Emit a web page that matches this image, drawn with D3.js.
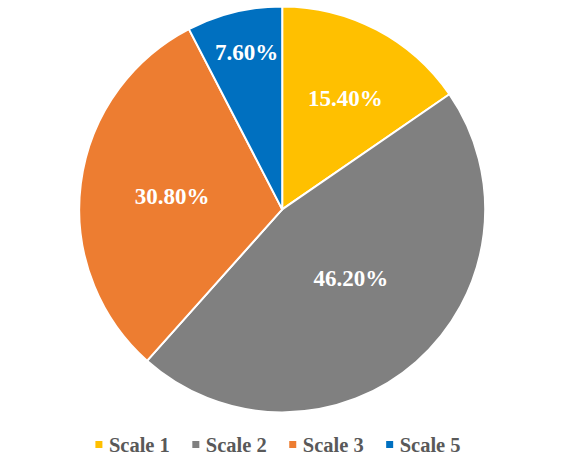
<!DOCTYPE html>
<html>
<head>
<meta charset="utf-8">
<script src="https://cdn.jsdelivr.net/npm/d3@7"></script>
<style>
  html, body { margin: 0; padding: 0; background: #fff; }
  svg { display: block; }
  svg text { font-family: "Liberation Serif", "Times New Roman", Tinos, serif; font-weight: bold; }
</style>
</head>
<body>
<svg id="chart" width="561" height="462"></svg>
<script>
// data
const categories = ["Scale 1", "Scale 2", "Scale 3", "Scale 5"];
const values = [15.4, 46.2, 30.8, 7.6];
const labels = ["15.40%", "46.20%", "30.80%", "7.60%"];
const colors = ["#FFC000", "#808080", "#ED7D31", "#0070C0"];

// label placement: fraction of radius + small angle nudge (deg), excel best fit look
const labelFrac = [0.632, 0.477, 0.547, 0.795];
const labelNudge = [1.8, -3.8, 0, 0.9];

const width = 561, height = 462;
const cx = 282.2, cy = 209.4, radius = 203;

const svg = d3.select("#chart");

const pie = d3.pie().sort(null).value(d => d.v);
const arcs = pie(values.map((v, i) => ({v: v, i: i})));

const arc = d3.arc().innerRadius(0).outerRadius(radius);

const g = svg.append("g").attr("transform", `translate(${cx},${cy})`);

g.selectAll("path.slice")
    .data(arcs)
    .enter().append("path")
    .attr("class", "slice")
    .attr("d", arc)
    .attr("fill", d => colors[d.data.i])
    .attr("stroke", "#fff")
    .attr("stroke-width", 2)
    .attr("stroke-linejoin", "round");

g.selectAll("text.lbl")
    .data(arcs)
    .enter().append("text")
    .attr("class", "lbl")
    .attr("transform", d => {
        const a = (d.startAngle + d.endAngle) / 2 + labelNudge[d.data.i] * Math.PI / 180;
        const r = radius * labelFrac[d.data.i];
        return `translate(${Math.sin(a) * r},${-Math.cos(a) * r})`;
    })
    .attr("text-anchor", "middle")
    .attr("dy", "0.35em")
    .attr("fill", "#fff")
    .attr("font-size", 23)
    .text(d => labels[d.data.i]);

// legend, centered under the pie
const legend = svg.append("g");
const sq = 7, gapText = 6.5, gapItem = 22.5;
let x = 0;
categories.forEach((c, i) => {
    const item = legend.append("g").attr("transform", `translate(${x},0)`);
    item.append("rect")
        .attr("x", 0).attr("y", -3.5)
        .attr("width", sq).attr("height", sq)
        .attr("fill", colors[i]);
    const t = item.append("text")
        .attr("x", sq + gapText)
        .attr("y", 0)
        .attr("dy", "0.35em")
        .attr("fill", "#595959")
        .attr("font-size", 20.5)
        .text(c);
    x += sq + gapText + t.node().getComputedTextLength() + gapItem;
});
const legendW = x - gapItem;
legend.attr("transform", `translate(${278 - legendW / 2},444.5)`);
</script>
</body>
</html>
